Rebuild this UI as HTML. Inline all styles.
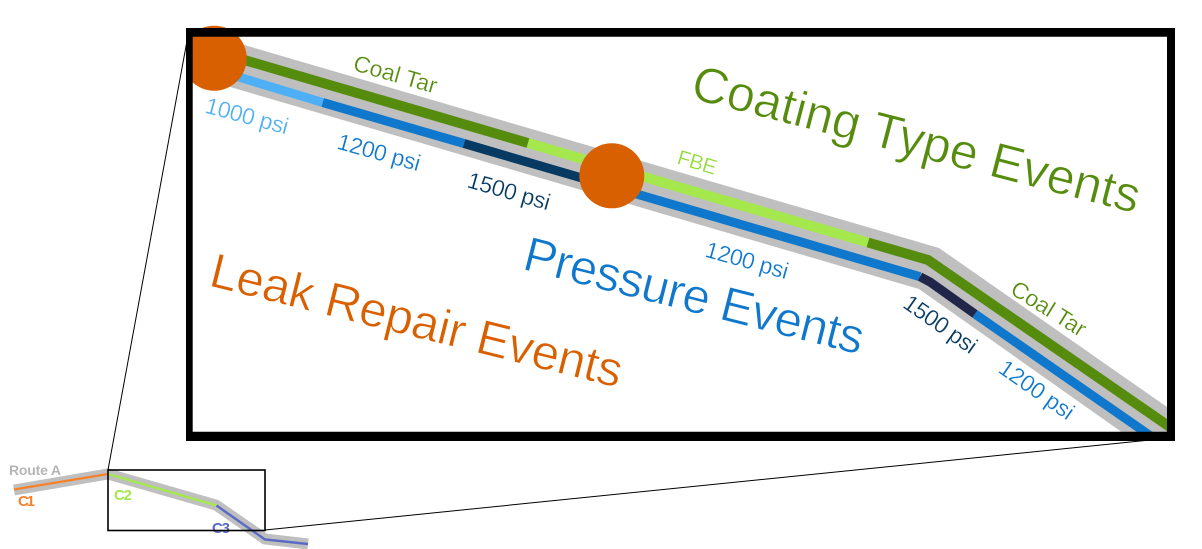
<!DOCTYPE html>
<html>
<head>
<meta charset="utf-8">
<style>
html,body{margin:0;padding:0;background:#fff;width:1202px;height:549px;overflow:hidden}
svg{display:block}
text{font-family:"Liberation Sans",sans-serif}
.big{stroke:#fff;stroke-width:.7px}
.sm{stroke:#fff;stroke-width:.25px}
</style>
</head>
<body>
<svg width="1202" height="549" viewBox="0 0 1202 549" xmlns="http://www.w3.org/2000/svg">
<defs>
<clipPath id="f"><rect x="186" y="20" width="989" height="421"/></clipPath>
</defs>

<!-- mini map -->
<polyline points="14,490 108,474 216,505 265,539 308,544" fill="none" stroke="#bfbfbf" stroke-width="11"/>
<line x1="14" y1="489.5" x2="108" y2="474" stroke="#f5822a" stroke-width="2.4"/>
<line x1="108" y1="474" x2="216.5" y2="505.5" stroke="#a4e84d" stroke-width="2.4"/>
<polyline points="216.5,505.5 265,539.5 308,544" fill="none" stroke="#5a6bc4" stroke-width="2.4"/>
<text x="9" y="475" font-size="14" font-weight="bold" fill="#b5b5b5" textLength="52">Route A</text>
<text x="18" y="506" font-size="15" font-weight="bold" fill="#f5822a" textLength="17">C1</text>
<text x="114" y="500" font-size="15" font-weight="bold" fill="#a4e84d" textLength="18">C2</text>
<text x="212" y="533" font-size="15" font-weight="bold" fill="#5a6bc4" textLength="18">C3</text>
<rect x="108" y="470" width="157" height="60.5" fill="none" stroke="#000" stroke-width="1.6"/>
<line x1="108" y1="470" x2="189" y2="30" stroke="#000" stroke-width="1"/>
<line x1="265" y1="530" x2="1170" y2="438" stroke="#000" stroke-width="1"/>

<!-- detail -->
<g clip-path="url(#f)">
<polygon points="186,28 939,248 1180,416 1180,474 1140,445 919,289 186,74" fill="#bfbfbf"/>
<polyline points="205,48.5 528,143" fill="none" stroke="#568c0d" stroke-width="10"/>
<line x1="528" y1="143" x2="868" y2="242.5" stroke="#a4e84d" stroke-width="10"/>
<polyline points="868,242.5 928,260 1180,434" fill="none" stroke="#568c0d" stroke-width="10"/>
<line x1="214" y1="69.5" x2="322.7" y2="102.5" stroke="#4fafF5" stroke-width="9"/>
<line x1="322.7" y1="102.5" x2="464" y2="143.5" stroke="#0f78cc" stroke-width="9"/>
<line x1="464" y1="143.5" x2="600" y2="183.3" stroke="#063a63" stroke-width="9"/>
<line x1="600" y1="183.3" x2="920" y2="276.7" stroke="#0f78cc" stroke-width="9"/>
<polyline points="920,276.7 930,282 975,314" fill="none" stroke="#20264a" stroke-width="9"/>
<line x1="975" y1="314" x2="1165" y2="446" stroke="#0f78cc" stroke-width="9"/>
<circle cx="214.2" cy="58.2" r="32.5" fill="#d96000"/>
<circle cx="611.8" cy="175.8" r="32.5" fill="#d96000"/>
</g>
<path fill-rule="evenodd" d="M186,28H1175V441H186Z M192.7,36.7V431.7H1167V36.7Z" fill="#000"/>

<!-- labels -->
<text class="sm" transform="translate(352,70) rotate(16)" font-size="23" fill="#568c0d" textLength="86">Coal Tar</text>
<text class="sm" transform="translate(204,112.5) rotate(15)" font-size="23" fill="#4fafF5" textLength="85">1000 psi</text>
<text class="sm" transform="translate(336,148.5) rotate(15.5)" font-size="23" fill="#0f78cc" textLength="85">1200 psi</text>
<text class="sm" transform="translate(466,187) rotate(16)" font-size="23" fill="#063a63" textLength="85">1500 psi</text>
<text class="sm" transform="translate(676,163.5) rotate(16.5)" font-size="21" fill="#8fdd3a" textLength="40">FBE</text>
<text class="sm" transform="translate(704,256.5) rotate(15.5)" font-size="23" fill="#0f78cc" textLength="85">1200 psi</text>
<text class="sm" transform="translate(901.5,306.5) rotate(35) " font-size="23" fill="#063a63" textLength="84">1500 psi</text>
<text class="sm" transform="translate(1009,293) rotate(32)" font-size="23" fill="#568c0d" textLength="84">Coal Tar</text>
<text class="sm" transform="translate(997,371.5) rotate(35)" font-size="23" fill="#0f78cc" textLength="86">1200 psi</text>

<text class="big" transform="translate(689,98) rotate(14.5)" font-size="50" fill="#568c0d" textLength="461">Coating Type Events</text>
<text class="big" transform="translate(521,269) rotate(14.2)" font-size="49" fill="#0f78cc" textLength="349">Pressure Events</text>
<text class="big" transform="translate(207.5,285.5) rotate(14)" font-size="49" fill="#d96000" textLength="423">Leak Repair Events</text>
</svg>
</body>
</html>
